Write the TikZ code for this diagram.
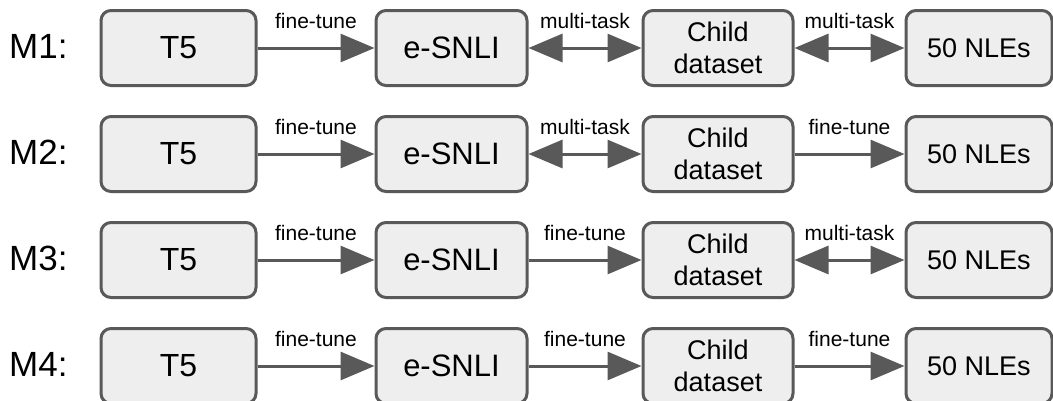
\documentclass[tikz,border=0pt]{standalone}
\usepackage{fontspec}
\setmainfont{Liberation Sans}
\usetikzlibrary{arrows.meta}
\definecolor{edgegray}{HTML}{595959}
\definecolor{boxfill}{HTML}{EEEEEE}

\begin{document}
\begin{tikzpicture}[x=1pt,y=-1pt,
  stage/.style={draw=edgegray, fill=boxfill, line width=3pt, rounded corners=10pt,
    minimum height=75pt, inner sep=0pt, align=center},
  big/.style={font=\fontsize{#1}{32}\selectfont},
  rowlabel/.style={anchor=base west, inner sep=0pt, font=\fontsize{35}{40}\selectfont},
  ft/.style={draw=edgegray, line width=3pt, -{Triangle[length=34pt,width=28pt]}},
  mt/.style={draw=edgegray, line width=3pt,
    {Triangle[length=34pt,width=28pt]}-{Triangle[length=34pt,width=28pt]}},
  lab/.style={anchor=base, inner sep=0pt, yshift=20pt, font=\fontsize{21}{23}\selectfont}
]
\useasboundingbox (0,0) rectangle (1053,400);

% one row per training recipe: row number, centre y, then style/label of each of the three links
\foreach \r/\y/\sa/\la/\sb/\lb/\sc/\lc in {
  1/48/ft/fine-tune/mt/multi-task/mt/multi-task,
  2/154/ft/fine-tune/mt/multi-task/ft/fine-tune,
  3/260/ft/fine-tune/ft/fine-tune/mt/multi-task,
  4/366/ft/fine-tune/ft/fine-tune/ft/fine-tune}{
  \node[rowlabel] (m\r) at (9,\y+10) {M\r:};
  \node[stage, big=32, minimum width=155pt] (t5\r)    at (178.5,\y) {T5};
  \node[stage, big=31, minimum width=151pt] (esnli\r) at (451.5,\y) {e-SNLI};
  \node[stage, big=27, minimum width=150pt] (child\r) at (718,\y)   {Child\\dataset};
  \node[stage, big=27, minimum width=146pt] (nle\r)   at (979,\y)   {50 NLEs};
  \draw[\sa] (t5\r) -- node[lab] {\la} (esnli\r);
  \draw[\sb] (esnli\r) -- node[lab] {\lb} (child\r);
  \draw[\sc] (child\r) -- node[lab] {\lc} (nle\r);
}
\end{tikzpicture}
\end{document}
